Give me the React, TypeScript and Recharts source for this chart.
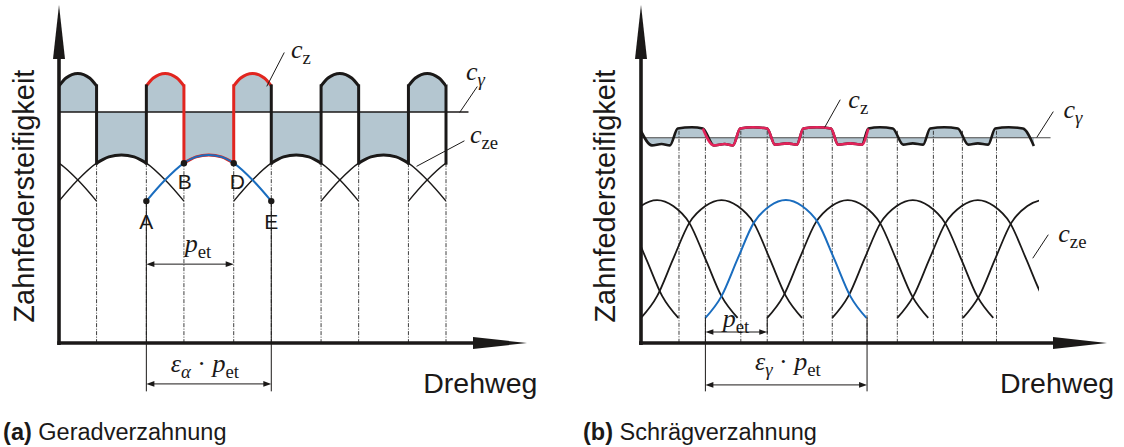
import React from "react";
import { Area, ComposedChart, Line, ReferenceDot, ReferenceLine, XAxis, YAxis } from "recharts";

const INK = "#1b1918";
const FILL = "#b4c6d0";
const RED_A = "#e1251f";
const RED_B = "#e2235a";
const BLUE = "#1a6dbf";
const SANS = "'Liberation Sans', Arial, Helvetica, sans-serif";
const SERIF = "'Liberation Serif', 'Times New Roman', serif";

// (a) Geradverzahnung: Drehweg in Eingriffsteilungen p_et, Steifigkeit in Skalenteilen
const toothStartsA = [0, 1, 2, 3, 4];
const toothTopA = [
  { t: 0, v: 77.9 },
  { t: 0.08, v: 80.3 },
  { t: 0.215, v: 81.7 },
  { t: 0.35, v: 80.3 },
  { t: 0.43, v: 77.9 },
];
const arcStartsA = [-1, 0, 1, 2, 3, 4];
const arcProfileA = [
  { t: 0, v: 43 },
  { t: 0.2, v: 49 },
  { t: 0.43, v: 54.5 },
  { t: 0.57, v: 56.4 },
  { t: 0.715, v: 57 },
  { t: 0.86, v: 56.4 },
  { t: 1.0, v: 54.5 },
  { t: 1.23, v: 49 },
  { t: 1.43, v: 43 },
];
const cGammaA = 70;
const meshA = { A: 1, pitchEnd: 2, E: 2.43 };
const dashedA = [0.43, 1, 1.43, 2, 2.43, 3, 3.43, 4, 4.43];
const pointsA = [
  { name: "A", u: 1, v: 43 },
  { name: "B", u: 1.43, v: 54.5 },
  { name: "D", u: 2, v: 54.5 },
  { name: "E", u: 2.43, v: 43 },
];

// (b) Schrägverzahnung
const czB = [
  { u: 0, v: 64.2 }, { u: 0.17, v: 59.9 }, { u: 0.32, v: 60.3 }, { u: 0.45, v: 59.9 },
  { u: 0.57, v: 65.0 }, { u: 0.79, v: 65.4 }, { u: 0.96, v: 65.0 },
  { u: 1.13, v: 59.9 }, { u: 1.3, v: 60.3 }, { u: 1.43, v: 59.9 },
  { u: 1.54, v: 65.0 }, { u: 1.74, v: 65.4 }, { u: 1.96, v: 65.0 },
  { u: 2.08, v: 60.1 }, { u: 2.27, v: 60.5 }, { u: 2.42, v: 60.1 },
  { u: 2.52, v: 65.0 }, { u: 2.73, v: 65.4 }, { u: 2.95, v: 65.0 },
  { u: 3.06, v: 60.1 }, { u: 3.25, v: 60.5 }, { u: 3.43, v: 60.1 },
  { u: 3.53, v: 65.0 }, { u: 3.71, v: 65.4 }, { u: 3.91, v: 65.0 },
  { u: 4.07, v: 60.1 }, { u: 4.22, v: 60.5 }, { u: 4.38, v: 60.1 },
  { u: 4.49, v: 65.0 }, { u: 4.71, v: 65.4 }, { u: 4.92, v: 65.0 },
  { u: 5.08, v: 60.1 }, { u: 5.23, v: 60.5 }, { u: 5.39, v: 60.1 },
  { u: 5.5, v: 65.0 }, { u: 5.71, v: 65.4 }, { u: 5.93, v: 65.0 },
  { u: 6.1, v: 59.7 },
];
const cGammaB = 62.2;
const bellStartsB = [-1.92, -1, 0, 1, 1.96, 2.97, 3.98, 5];
const bellProfileB = [
  { t: 0, v: 7.6 },
  { t: 0.25, v: 14.2 },
  { t: 0.5, v: 25.5 },
  { t: 0.75, v: 36.4 },
  { t: 1.0, v: 41.5 },
  { t: 1.25, v: 43.3 },
  { t: 1.5, v: 41.5 },
  { t: 1.75, v: 36.4 },
  { t: 2.0, v: 25.5 },
  { t: 2.25, v: 14.2 },
  { t: 2.5, v: 7.6 },
];
const meshB = { A: 1, pitchEnd: 1.96, E: 3.51 };
const dashedB = [0.59, 1, 1.55, 1.96, 2.52, 2.97, 3.51, 3.98, 4.54, 4.99, 5.52];

type Pt = { t: number; v: number };
const shifted = (profile: Pt[], s: number) => profile.map((p) => ({ u: s + p.t, v: p.v }));

// straight segment in data coordinates
function seg(key: string, a: [number, number], b: [number, number], stroke: string, width: number, dash?: string) {
  return (
    <ReferenceLine
      key={key}
      segment={[{ x: a[0], y: a[1] }, { x: b[0], y: b[1] }]}
      ifOverflow="visible"
      shape={(p: any) => (
        <line x1={p.x1} y1={p.y1} x2={p.x2} y2={p.y2} stroke={stroke} strokeWidth={width} strokeDasharray={dash} strokeLinecap={dash ? "butt" : "square"} />
      )}
    />
  );
}

// segment with filled arrow heads (one or both ends)
function arrow(key: string, a: [number, number], b: [number, number], width: number, head: number, half: number, both: boolean) {
  return (
    <ReferenceLine
      key={key}
      segment={[{ x: a[0], y: a[1] }, { x: b[0], y: b[1] }]}
      ifOverflow="visible"
      shape={(p: any) => {
        const { x1, y1, x2, y2 } = p;
        const len = Math.hypot(x2 - x1, y2 - y1);
        const ux = (x2 - x1) / len;
        const uy = (y2 - y1) / len;
        const tri = (tx: number, ty: number, dx: number, dy: number) => {
          const bx = tx - dx * head;
          const by = ty - dy * head;
          return `${tx},${ty} ${bx - dy * half},${by + dx * half} ${bx + dy * half},${by - dx * half}`;
        };
        const sx = both ? x1 + ux * head * 0.6 : x1;
        const sy = both ? y1 + uy * head * 0.6 : y1;
        return (
          <g>
            <line x1={sx} y1={sy} x2={x2 - ux * head * 0.6} y2={y2 - uy * head * 0.6} stroke={INK} strokeWidth={width} />
            <polygon points={tri(x2, y2, ux, uy)} fill={INK} />
            {both && <polygon points={tri(x1, y1, -ux, -uy)} fill={INK} />}
          </g>
        );
      }}
    />
  );
}

function note(key: string, u: number, v: number, draw: (x: number, y: number) => React.ReactElement) {
  return <ReferenceDot key={key} x={u} y={v} r={0} ifOverflow="visible" shape={(p: any) => draw(p.cx, p.cy)} />;
}

type Piece = { text: string; italic?: boolean; sub?: boolean };
function mathText(x: number, y: number, pieces: Piece[], size = 26, anchor: "start" | "middle" = "start") {
  let level = 0;
  return (
    <text x={x} y={y} fontFamily={SERIF} fontSize={size} fill={INK} textAnchor={anchor}>
      {pieces.map((p, i) => {
        const target = p.sub ? 1 : 0;
        const dy = (target - level) * size * 0.22;
        level = target;
        return (
          <tspan key={i} dy={dy} fontStyle={p.italic ? "italic" : "normal"} fontSize={p.sub ? size * 0.72 : size}>
            {p.text}
          </tspan>
        );
      })}
    </text>
  );
}

const sansText = (text: string, size: number, anchor: "start" | "middle" = "start") => (x: number, y: number) => (
  <text x={x} y={y} fontFamily={SANS} fontSize={size} fill={INK} textAnchor={anchor}>
    {text}
  </text>
);

const yTitle = (x: number, y: number) => (
  <text x={x} y={y} transform={`rotate(-90 ${x} ${y})`} fontFamily={SANS} fontSize={29} fill={INK} textAnchor="middle">
    Zahnfedersteifigkeit
  </text>
);

const caption = (tag: string, text: string) => (x: number, y: number) => (
  <text x={x} y={y} fontFamily={SANS} fontSize={23.5} fill={INK}>
    <tspan fontWeight="bold">{tag}</tspan>
    <tspan> {text}</tspan>
  </text>
);

const P_ET: Piece[] = [{ text: "p", italic: true }, { text: "et", sub: true }];

function PanelA() {
  const toothW = toothTopA[toothTopA.length - 1].t;
  const edgeTop = toothTopA[0].v;
  const edgeBottom = arcProfileA.find((p) => p.t === toothW)!.v;
  const gapProfile = arcProfileA.filter((p) => p.t >= toothW && p.t <= 1);
  const gapStarts = toothStartsA.slice(0, -1);
  const inside = (x: number) => x > meshA.A + 1e-6 && x < meshA.E - 1e-6;
  const edges: number[] = [];
  toothStartsA.forEach((s) => {
    if (s > 0) edges.push(s);
    edges.push(s + toothW);
  });

  return (
    <ComposedChart width={560} height={447} margin={{ top: 13, right: 114, bottom: 104, left: 59 }}>
      <XAxis type="number" dataKey="u" domain={[0, 4.43]} allowDataOverflow hide />
      <YAxis type="number" dataKey="v" domain={[0, 100]} allowDataOverflow hide />

      {toothStartsA.map((s) => (
        <Area key={`tf${s}`} data={shifted(toothTopA, s)} dataKey="v" type="monotone" baseValue={cGammaA} stroke="none" fill={FILL} fillOpacity={1} isAnimationActive={false} />
      ))}
      {gapStarts.map((s) => (
        <Area key={`gf${s}`} data={shifted(gapProfile, s)} dataKey="v" type="monotone" baseValue={cGammaA} stroke="none" fill={FILL} fillOpacity={1} isAnimationActive={false} />
      ))}

      {seg("cg", [0, cGammaA], [4.68, cGammaA], INK, 1.3)}
      {dashedA.map((u) => seg(`d${u}`, [u, edgeBottom], [u, 0], "#2a2a2a", 0.9, "4 1.5 1 1.5"))}

      {arcStartsA
        .filter((s) => s !== meshA.A)
        .map((s) => (
          <Line key={`arc${s}`} data={shifted(arcProfileA, s)} dataKey="v" type="monotone" stroke={INK} strokeWidth={1.4} dot={false} activeDot={false} isAnimationActive={false} />
        ))}

      {gapStarts.map((s) => (
        <Line key={`gl${s}`} data={shifted(gapProfile, s)} dataKey="v" type="monotone" stroke={inside(s + toothW) && inside(s + 0.99) ? RED_A : INK} strokeWidth={3} dot={false} activeDot={false} isAnimationActive={false} />
      ))}
      {toothStartsA.map((s) => (
        <Line key={`tl${s}`} data={shifted(toothTopA, s)} dataKey="v" type="monotone" stroke={s >= meshA.A && s + toothW <= meshA.E ? RED_A : INK} strokeWidth={3} dot={false} activeDot={false} isAnimationActive={false} />
      ))}
      {edges.map((u) => seg(`e${u}`, [u, edgeTop], [u, edgeBottom], inside(u) ? RED_A : INK, 3))}

      <Line data={shifted(arcProfileA, meshA.A)} dataKey="v" type="monotone" stroke={BLUE} strokeWidth={2} dot={false} activeDot={false} isAnimationActive={false} />

      {seg("va", [meshA.A, arcProfileA[0].v], [meshA.A, -14.5], INK, 1)}
      {seg("ve", [meshA.E, arcProfileA[0].v], [meshA.E, -14.5], INK, 1)}
      {arrow("pet", [meshA.A, 23.9], [meshA.pitchEnd, 23.9], 1, 8, 2.8, true)}
      {arrow("eps", [meshA.A, -12.4], [meshA.E, -12.4], 1, 8, 2.8, true)}

      {pointsA.map((p) => (
        <ReferenceDot key={`p${p.name}`} x={p.u} y={p.v} r={3.2} fill={INK} stroke="none" ifOverflow="visible" />
      ))}
      {note("lA", 1.0, 34.5, sansText("A", 21, "middle"))}
      {note("lB", 1.44, 46.7, sansText("B", 21, "middle"))}
      {note("lD", 2.04, 46.7, sansText("D", 21, "middle"))}
      {note("lE", 2.43, 34.5, sansText("E", 21, "middle"))}

      {seg("lz", [2.381, 77.9], [2.576, 87.9], INK, 1)}
      {note("tz", 2.656, 86.4, (x, y) => mathText(x, y, [{ text: "c", italic: true }, { text: "z", sub: true }]))}
      {seg("lg", [4.59, cGammaA], [4.785, 77.6], INK, 1)}
      {note("tg", 4.659, 79.7, (x, y) => mathText(x, y, [{ text: "c", italic: true }, { text: "γ", italic: true, sub: true }]))}
      {seg("le", [4.098, 53.6], [4.636, 61.2], INK, 1)}
      {note("te", 4.705, 60.6, (x, y) => mathText(x, y, [{ text: "c", italic: true }, { text: "ze", sub: true }]))}
      {note("tp", 1.59, 27.6, (x, y) => mathText(x, y, P_ET, 26, "middle"))}
      {note("tep", 1.67, -8.8, (x, y) =>
        mathText(x, y, [{ text: "ε", italic: true }, { text: "α", italic: true, sub: true }, { text: " · " }, ...P_ET], 26, "middle")
      )}

      {arrow("ay", [0, -0.6], [0, 102.4], 3.6, 54, 6, false)}
      {arrow("ax", [-0.02, 0], [5.357, 0], 3.6, 54, 6, false)}
      {note("yt", -0.286, 44.5, yTitle)}
      {note("xt", 4.17, -15.2, sansText("Drehweg", 28.5))}
      {note("cap", -0.64, -29.4, caption("(a)", "Geradverzahnung"))}
    </ComposedChart>
  );
}

function PanelB() {
  const redPart = czB.filter((p) => p.u >= 0.96 && p.u <= 3.53);
  const bellLow = bellProfileB[0].v;

  return (
    <ComposedChart width={564} height={447} margin={{ top: 13, right: 85, bottom: 104, left: 81 }}>
      <XAxis type="number" dataKey="u" domain={[0, 6.18]} allowDataOverflow hide />
      <YAxis type="number" dataKey="v" domain={[0, 100]} allowDataOverflow hide />

      <Area data={czB} dataKey="v" type="monotone" baseValue={cGammaB} stroke="none" fill={FILL} fillOpacity={1} isAnimationActive={false} />
      {seg("cg", [0, cGammaB], [6.35, cGammaB], "#4a4a4a", 1.2)}
      {dashedB.map((u) => seg(`d${u}`, [u, 64.3], [u, 0], "#2a2a2a", 0.9, "4 1.5 1 1.5"))}

      {bellStartsB
        .filter((s) => s !== meshB.A)
        .map((s) => (
          <Line key={`b${s}`} data={shifted(bellProfileB, s)} dataKey="v" type="monotone" stroke={INK} strokeWidth={1.8} dot={false} activeDot={false} isAnimationActive={false} />
        ))}
      <Line data={shifted(bellProfileB, meshB.A)} dataKey="v" type="monotone" stroke={BLUE} strokeWidth={2} dot={false} activeDot={false} isAnimationActive={false} />

      <Line data={czB} dataKey="v" type="monotone" stroke={INK} strokeWidth={2.6} dot={false} activeDot={false} isAnimationActive={false} />
      <Line data={redPart} dataKey="v" type="monotone" stroke={RED_B} strokeWidth={2.6} dot={false} activeDot={false} isAnimationActive={false} />

      {seg("va", [meshB.A, bellLow], [meshB.A, -14.5], INK, 1)}
      {seg("ve", [meshB.E, bellLow], [meshB.E, -14.5], INK, 1)}
      {seg("vp", [meshB.pitchEnd, bellLow], [meshB.pitchEnd, 3.0], INK, 1)}
      {arrow("pet", [meshB.A, 3.33], [meshB.pitchEnd, 3.33], 1, 8, 2.8, true)}
      {arrow("eps", [meshB.A, -12.7], [meshB.E, -12.7], 1, 8, 2.8, true)}

      {seg("lz", [2.857, 65.5], [3.09, 73.6], INK, 1)}
      {note("tz", 3.22, 71.2, (x, y) => mathText(x, y, [{ text: "c", italic: true }, { text: "z", sub: true }]))}
      {seg("lg", [6.149, 62.4], [6.398, 70], INK, 1)}
      {note("tg", 6.56, 68.2, (x, y) => mathText(x, y, [{ text: "c", italic: true }, { text: "γ", italic: true, sub: true }]))}
      {seg("le", [6.087, 25.8], [6.32, 32.7], INK, 1)}
      {note("te", 6.48, 30.6, (x, y) => mathText(x, y, [{ text: "c", italic: true }, { text: "ze", sub: true }]))}
      {note("tp", 1.475, 4.8, (x, y) => mathText(x, y, P_ET, 26, "middle"))}
      {note("tep", 2.28, -8.2, (x, y) =>
        mathText(x, y, [{ text: "ε", italic: true }, { text: "γ", italic: true, sub: true }, { text: " · " }, ...P_ET], 26, "middle")
      )}

      {arrow("ay", [0, -0.6], [0, 102.4], 3.6, 54, 6, false)}
      {arrow("ax", [-0.03, 0], [7.236, 0], 3.6, 54, 6, false)}
      {note("yt", -0.404, 44.5, yTitle)}
      {note("xt", 5.575, -15.2, sansText("Drehweg", 28.5))}
      {note("cap", -0.9, -29.4, caption("(b)", "Schrägverzahnung"))}
    </ComposedChart>
  );
}

export default function App() {
  return (
    <div style={{ position: "relative", width: 1124, height: 447, background: "#fff" }}>
      <style>{"body{margin:0}"}</style>
      <div style={{ position: "absolute", left: 0, top: 0 }}>
        <PanelA />
      </div>
      <div style={{ position: "absolute", left: 560, top: 0 }}>
        <PanelB />
      </div>
    </div>
  );
}
